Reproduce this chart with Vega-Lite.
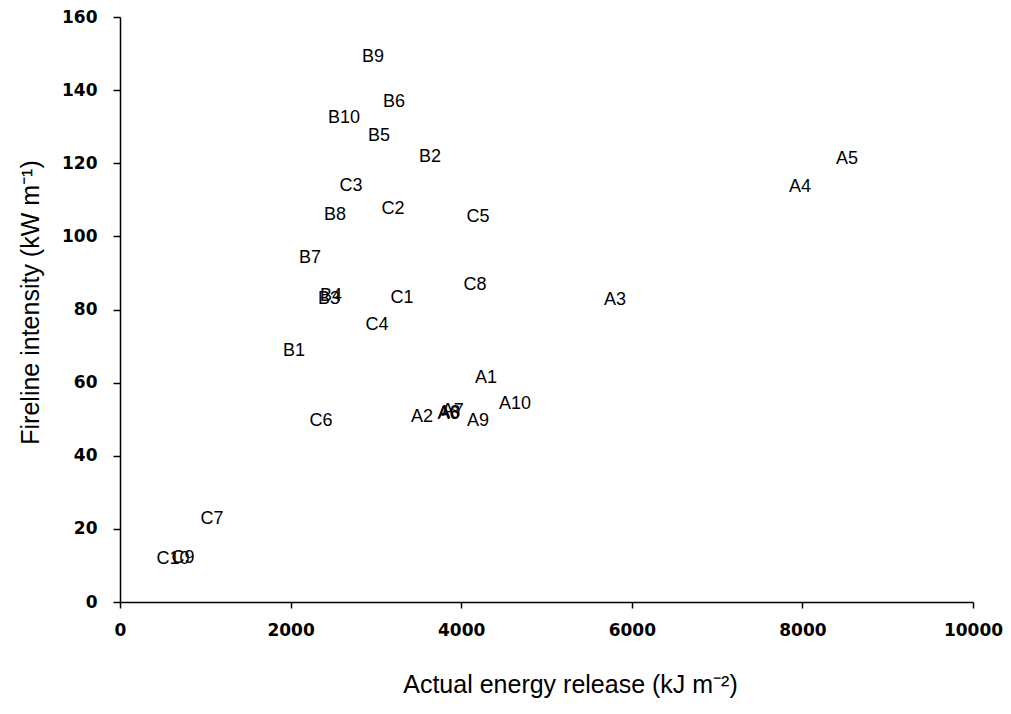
{
  "$schema": "https://vega.github.io/schema/vega-lite/v6.json",
  "autosize": "none",
  "width": 853,
  "height": 585,
  "padding": {"left": 120, "top": 17, "right": 38, "bottom": 112},
  "background": "white",
  "config": {"view": {"stroke": null}},
  "data": {"values": [
    {"label": "A1", "energy": 4291, "intensity": 61.3},
    {"label": "A2", "energy": 3540, "intensity": 50.6},
    {"label": "A3", "energy": 5803, "intensity": 82.6},
    {"label": "A4", "energy": 7972, "intensity": 113.5},
    {"label": "A5", "energy": 8523, "intensity": 121.2},
    {"label": "A6", "energy": 3850, "intensity": 51.5},
    {"label": "A7", "energy": 3900, "intensity": 52.3},
    {"label": "A8", "energy": 3860, "intensity": 51.8},
    {"label": "A9", "energy": 4197, "intensity": 49.5},
    {"label": "A10", "energy": 4631, "intensity": 54.2},
    {"label": "B1", "energy": 2040, "intensity": 68.7},
    {"label": "B2", "energy": 3634, "intensity": 121.7},
    {"label": "B3", "energy": 2450, "intensity": 82.8},
    {"label": "B4", "energy": 2475, "intensity": 83.6},
    {"label": "B5", "energy": 3036, "intensity": 127.5},
    {"label": "B6", "energy": 3212, "intensity": 136.8},
    {"label": "B7", "energy": 2227, "intensity": 94.1},
    {"label": "B8", "energy": 2520, "intensity": 105.9},
    {"label": "B9", "energy": 2966, "intensity": 149.1},
    {"label": "B10", "energy": 2626, "intensity": 132.4},
    {"label": "C1", "energy": 3306, "intensity": 83.2},
    {"label": "C2", "energy": 3200, "intensity": 107.5},
    {"label": "C3", "energy": 2708, "intensity": 113.8},
    {"label": "C4", "energy": 3013, "intensity": 75.8},
    {"label": "C5", "energy": 4197, "intensity": 105.3},
    {"label": "C6", "energy": 2356, "intensity": 49.5},
    {"label": "C7", "energy": 1079, "intensity": 22.7},
    {"label": "C8", "energy": 4162, "intensity": 86.7},
    {"label": "C9", "energy": 739, "intensity": 12.1},
    {"label": "C10", "energy": 621, "intensity": 11.8}
  ]},
  "mark": {"type": "text", "font": "Liberation Sans", "fontSize": 18, "color": "black", "align": "center", "baseline": "middle"},
  "encoding": {
    "x": {"field": "energy", "type": "quantitative",
      "scale": {"domain": [0, 10000], "nice": false, "zero": false},
      "axis": {"values": [0, 2000, 4000, 6000, 8000, 10000], "grid": false, "format": "d",
        "title": "Actual energy release (kJ m⁻²)", "titleFont": "Liberation Sans", "titleFontSize": 25, "titleFontWeight": "normal", "titleColor": "black", "titlePadding": 34, "titleX": 450,
        "labelFont": "DejaVu Sans", "labelFontSize": 17, "labelFontWeight": "bold", "labelColor": "black", "labelPadding": 14,
        "domainColor": "black", "domainWidth": 1.5, "tickColor": "black", "tickSize": 6, "tickWidth": 1.5, "labelFlush": false}},
    "y": {"field": "intensity", "type": "quantitative",
      "scale": {"domain": [0, 160], "nice": false},
      "axis": {"values": [0, 20, 40, 60, 80, 100, 120, 140, 160], "grid": false,
        "title": "Fireline intensity (kW m⁻¹)", "titleFont": "Liberation Sans", "titleFontSize": 25, "titleFontWeight": "normal", "titleColor": "black", "titlePadding": 18, "titleY": 285,
        "labelFont": "DejaVu Sans", "labelFontSize": 17, "labelFontWeight": "bold", "labelColor": "black", "labelPadding": 16,
        "domainColor": "black", "domainWidth": 1.5, "tickColor": "black", "tickSize": 7, "tickWidth": 1.5, "labelFlush": false}},
    "text": {"field": "label", "type": "nominal"}
  }
}
